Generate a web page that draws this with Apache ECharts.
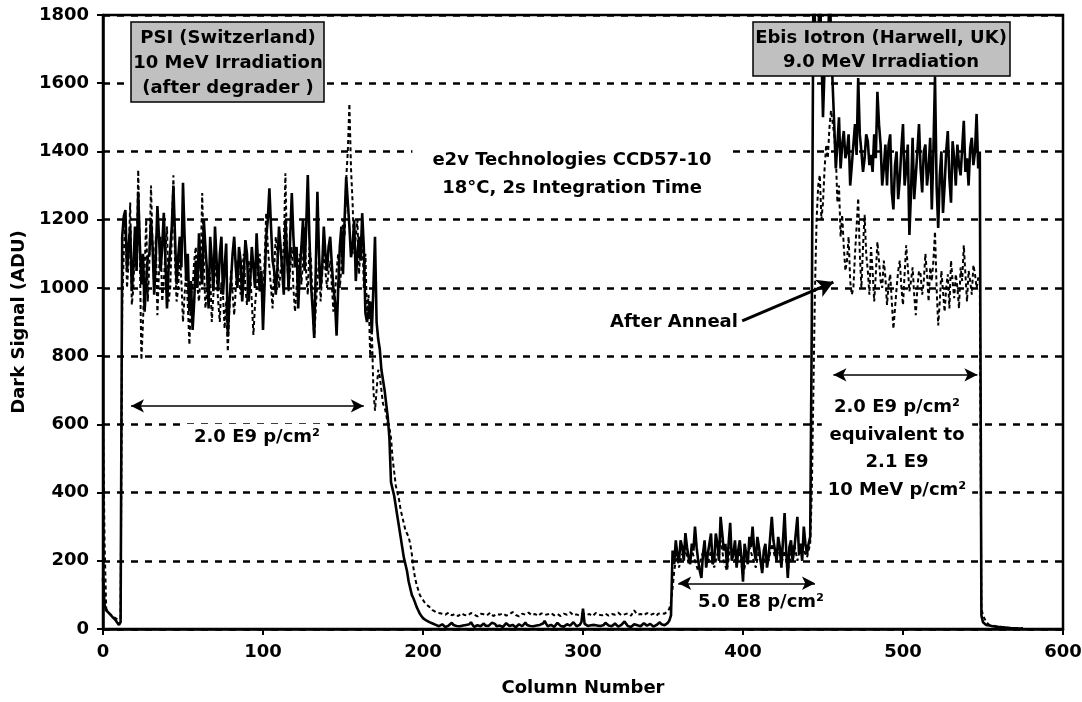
<!DOCTYPE html>
<html><head><meta charset="utf-8">
<script src="https://cdn.jsdelivr.net/npm/echarts@6/dist/echarts.min.js"></script>
<style>html,body{margin:0;padding:0;background:#fff}#c{width:1082px;height:702px}</style>
</head><body><div id="c"></div>
<script>
// Values read at even columns (0,2,...,574) and odd columns (1,3,...,575)

// Before anneal (solid line), dark signal in ADU — even columns
const beforeEven = [
  150,55,45,35,25,12,1150,1228,1120,990,          // 0-18
  1180,1282,1010,930,1090,1200,980,1240,1050,1220, // 20-38
  940,1110,1300,1010,1150,1308,1020,930,877,1080,  // 40-58
  1160,1010,1120,940,1080,1180,990,1150,1060,857,  // 60-78
  1020,1150,1000,1080,1040,1100,1020,1060,1160,990,// 80-98
  877,1150,1292,1080,980,1180,1050,1200,1000,1278, // 100-118
  1060,940,1120,1050,1331,1010,853,1282,1000,1180, // 120-138
  1050,1150,1000,860,1120,1040,1325,1180,1120,1020,// 140-158
  1150,1219,926,930,870,1150,850,760,700,620,      // 160-178
  430,390,330,270,210,170,120,90,65,45,            // 180-198
  32,25,20,16,12,8,14,6,10,18,                     // 200-218
  7,12,5,15,9,20,6,11,8,16,                        // 220-238
  5,13,22,8,10,6,17,9,12,5,                        // 240-258
  14,8,19,7,11,6,15,10,24,8,                       // 260-278
  12,6,18,9,7,14,10,20,8,12,                       // 280-298
  60,10,7,15,9,13,6,18,10,8,                       // 300-318
  16,7,12,22,9,6,14,11,8,17,                       // 320-338
  10,15,7,12,20,9,14,25,230,260,                   // 340-358
  200,240,281,210,250,300,200,150,260,220,         // 360-378
  280,200,250,329,230,183,311,220,180,260,         // 380-398
  139,220,270,300,200,240,164,250,210,329,         // 400-418
  230,270,180,340,150,260,230,329,250,300,         // 420-438
  220,270,1900,1650,1900,1500,1750,1900,1600,1350, // 440-458
  1500,1420,1380,1450,1360,1480,1615,1400,1380,1430,// 460-478
  1390,1450,1575,1420,1350,1300,1450,1230,1400,1320,// 480-498
  1480,1350,1155,1440,1330,1480,1280,1420,1350,1230,// 500-518
  1620,1176,1400,1300,1460,1250,1380,1420,1330,1490,// 520-538
  1380,1410,1360,1510,1400,20,12,10,8,7,           // 540-558
  6,5,4,3,2,2,1,1                                  // 560-574
];
// Before anneal — odd columns
const beforeOdd = [
  70,50,40,30,18,20,1210,1050,1180,1060,           // 1-19
  1050,1130,1100,1020,1100,1120,1090,1150,1120,1080,// 21-39
  1060,1180,1150,1090,1060,1150,1100,1020,960,1000,// 41-59
  1060,1200,1050,1150,990,1080,1100,980,1130,960,  // 61-79
  1100,1060,1120,960,1140,960,1120,1000,1060,1050, // 81-99
  1010,1200,1180,1050,1060,1120,980,1100,1150,1150,// 101-119
  1120,1050,1200,1180,1150,940,1060,1100,1060,1100,// 121-139
  1120,1070,960,1000,1180,1200,1250,1090,1200,1100,// 141-159
  1080,1120,900,960,1000,900,820,730,660,560,      // 161-179
  410,360,300,240,190,140,100,78,55,38,            // 181-199
  28,22,18,14,10,11,9,8,14,12,                     // 201-219
  9,8,10,12,14,12,8,9,12,10,                       // 221-239
  9,18,15,9,8,11,13,10,8,9,                        // 241-259
  11,13,12,9,8,10,12,16,15,10,                     // 261-279
  9,12,13,8,10,12,15,14,10,20,                     // 281-299
  15,9,11,12,10,9,12,14,9,12,                      // 301-319
  11,9,17,15,8,10,12,9,12,13,                      // 321-339
  12,10,9,16,14,11,18,40,190,215,                  // 341-359
  260,200,240,190,230,240,170,220,180,250,         // 361-379
  190,280,200,280,250,250,200,260,230,210,         // 381-399
  250,190,240,230,270,200,230,180,270,260,         // 401-419
  200,240,260,230,240,200,280,220,200,250,         // 421-439
  250,900,1900,1700,1900,1650,1620,1900,1480,1420, // 441-459
  1350,1460,1400,1300,1420,1390,1450,1340,1450,1360,// 461-479
  1340,1380,1480,1300,1420,1420,1280,1360,1260,1410,// 481-499
  1300,1420,1280,1260,1400,1350,1400,1300,1440,1400,// 501-519
  1300,1330,1220,1400,1320,1430,1300,1360,1410,1340,// 521-539
  1300,1440,1400,1350,40,15,11,9,8,6,              // 541-559
  5,4,3,2,2,1,1,1                                  // 561-575
];

// After anneal (dashed line) — even columns
const afterEven = [
  620,60,45,38,30,25,950,1200,1080,950,            // 0-18
  1150,1346,789,1050,960,1300,1000,920,1150,1020,  // 20-38
  1180,1000,1330,960,1100,900,1050,833,1000,1120,  // 40-58
  960,1278,940,1050,900,1080,960,1020,880,813,     // 60-78
  1050,920,1080,980,1100,950,1040,862,1000,1100,   // 80-98
  960,1220,1060,940,1150,1000,1080,1336,990,1120,  // 100-118
  930,1060,1010,1180,980,1080,853,1020,960,1120,   // 120-138
  1000,1080,930,1050,1000,1200,1320,1540,1250,1150,// 140-158
  1040,1180,1100,980,880,640,760,700,650,600,      // 160-178
  560,460,400,350,310,280,250,180,130,100,         // 180-198
  85,72,65,55,50,47,45,42,48,40,                   // 200-218
  44,38,46,41,39,47,42,37,45,43,                   // 220-238
  40,48,38,44,42,46,39,43,50,41,                   // 240-258
  37,45,42,48,40,44,38,46,41,43,                   // 260-278
  47,40,44,38,45,42,49,40,43,39,                   // 280-298
  46,41,44,38,47,42,40,45,39,44,                   // 300-318
  42,48,40,43,46,39,55,42,44,40,                   // 320-338
  47,41,45,39,50,43,48,60,120,200,                 // 340-358
  180,220,240,190,230,200,170,210,240,190,         // 360-378
  230,180,220,260,200,170,240,210,190,230,         // 380-398
  160,200,240,210,180,230,170,220,200,250,         // 400-418
  210,240,190,230,170,220,250,200,240,230,         // 420-438
  210,250,700,1200,1331,1250,1420,1468,1517,1390,  // 440-458
  1300,1214,1050,1150,980,1100,1263,1000,1214,1050,// 460-478
  1120,960,1135,1020,1080,950,1040,880,1000,1080,  // 480-498
  950,1125,990,1060,920,1050,980,1100,960,1020,    // 500-518
  1165,890,1050,930,1040,1080,970,1000,1060,1125,  // 520-538
  960,1020,1067,1000,1018,40,20,12,10,8,           // 540-558
  7,6,5,4,3,3,2,2                                  // 560-574
];
// After anneal — odd columns
const afterOdd = [
  250,50,42,34,28,30,1100,1000,1250,1000,          // 1-19
  1050,1100,900,1200,1080,1120,1150,1050,960,1100, // 21-39
  960,1150,1080,1000,1020,980,950,980,1080,1000,   // 41-59
  1050,1080,990,1040,980,1030,900,980,960,940,     // 61-79
  980,1000,1030,1050,1000,1080,960,950,1060,1000,  // 81-99
  1080,1120,1000,1060,1100,1050,1120,1100,1060,1000,// 101-119
  1000,1100,1080,1040,1120,960,940,1080,1040,1050, // 121-139
  1050,1010,980,1100,1060,1150,1400,1350,1100,1200,// 141-159
  1120,1000,920,800,700,700,740,660,630,590,       // 161-179
  500,420,380,330,290,270,220,150,115,92,          // 181-199
  78,68,60,52,49,46,43,45,44,42,                   // 201-219
  41,42,44,40,43,45,39,41,44,42,                   // 221-239
  44,43,41,43,44,42,41,46,45,39,                   // 241-259
  41,44,45,44,42,41,42,44,42,45,                   // 261-279
  43,42,41,42,44,46,44,42,41,43,                   // 281-299
  43,42,41,43,45,41,43,42,41,43,                   // 301-319
  45,44,41,44,42,47,48,43,42,44,                   // 321-339
  44,43,44,45,46,45,52,80,170,210,                 // 341-359
  200,210,215,210,215,185,190,225,215,210,         // 361-379
  200,200,240,230,185,205,225,200,210,190,         // 381-399
  180,220,225,195,205,200,195,210,225,230,         // 401-419
  225,215,210,200,195,235,225,220,235,220,         // 421-439
  230,400,1000,1300,1200,1350,1380,1520,1450,1250, // 441-459
  1150,1120,1080,1020,1000,1180,1100,1120,1100,980,// 461-479
  1050,1040,1080,1000,1030,1010,960,940,1050,1000, // 481-499
  1040,1060,1020,980,1000,1040,1020,1040,1060,1080,// 501-519
  1000,960,990,1000,940,1020,1040,940,1020,1040,   // 521-539
  1050,980,1040,1030,60,30,15,11,9,8,              // 541-559
  6,5,4,4,3,2,2,2                                  // 561-575
];

// Fluence range arrows [colStart, colEnd, level]
const rangeArrows = [
  [17.5, 163, 654],
  [359.5, 445, 134],
  [456.5, 546.5, 745]
];
const annealArrow = [[399.5, 903], [456.5, 1017]];

const FONT = 'DejaVu Sans';
const merge = (even, odd) => {
  const out = [];
  even.forEach((v, i) => { out.push([2 * i, v]); if (i < odd.length) out.push([2 * i + 1, odd[i]]); });
  return out;
};

const chart = echarts.init(document.getElementById('c'), null, {renderer: 'canvas'});
const txt = (x, y, text, extra) => ({
  type: 'text', x, y, z: 100,
  style: Object.assign({text, fill: '#000', font: 'bold 18px "' + FONT + '"',
    align: 'center', verticalAlign: 'middle'}, extra || {})
});

const markData = rangeArrows.map(a => [
  {coord: [a[0], a[2]], symbol: 'arrow'},
  {coord: [a[1], a[2]], symbol: 'arrow'}
]);
markData.push([
  {coord: annealArrow[0], symbol: 'none', lineStyle: {width: 3}},
  {coord: annealArrow[1], symbol: 'arrow', symbolSize: [14, 16], lineStyle: {width: 3}}
]);

chart.setOption({
  animation: false,
  backgroundColor: '#fff',
  grid: {left: 103, right: 19, top: 15, bottom: 73, show: true, borderColor: '#000', borderWidth: 2.5,
         containLabel: false, outerBoundsMode: 'none'},
  xAxis: {
    type: 'value', min: 0, max: 600, interval: 100,
    axisLine: {show: true, lineStyle: {color: '#000', width: 2.5}},
    axisTick: {show: true, length: 6, lineStyle: {color: '#000', width: 2}},
    axisLabel: {color: '#000', fontFamily: FONT, fontWeight: 'bold', fontSize: 18, margin: 14,
                formatter: v => String(v)},
    splitLine: {show: false},
    name: 'Column Number', nameLocation: 'middle', nameGap: 50,
    nameTextStyle: {color: '#000', fontFamily: FONT, fontWeight: 'bold', fontSize: 18}
  },
  yAxis: {
    type: 'value', min: 0, max: 1800, interval: 200,
    axisLine: {show: true, lineStyle: {color: '#000', width: 2.5}},
    axisTick: {show: true, length: 6, lineStyle: {color: '#000', width: 2}},
    axisLabel: {color: '#000', fontFamily: FONT, fontWeight: 'bold', fontSize: 18, margin: 14,
                formatter: v => String(v)},
    splitLine: {show: true, lineStyle: {color: '#000', width: 2.5, type: [7, 7]}},
    name: 'Dark Signal (ADU)', nameLocation: 'middle', nameGap: 74, nameRotate: 90,
    nameTextStyle: {color: '#000', fontFamily: FONT, fontWeight: 'bold', fontSize: 18}
  },
  series: [
    {
      name: 'After Anneal', type: 'line', data: merge(afterEven, afterOdd),
      showSymbol: false, symbol: 'none', clip: true,
      lineStyle: {color: '#000', width: 2, type: [4, 3]}
    },
    {
      name: 'Before Anneal', type: 'line', data: merge(beforeEven, beforeOdd),
      showSymbol: false, symbol: 'none', clip: true,
      lineStyle: {color: '#000', width: 2.6},
      markLine: {
        silent: true, animation: false,
        symbol: ['arrow', 'arrow'], symbolSize: [10, 13],
        label: {show: false},
        lineStyle: {color: '#000', width: 1.5, type: 'solid'},
        emphasis: {disabled: true},
        data: markData
      }
    }
  ],
  graphic: [
    {type: 'rect', z: 99, shape: {x: 131, y: 22, width: 193, height: 80},
     style: {fill: '#c0c0c0', stroke: '#000', lineWidth: 1.5}},
    txt(228, 63, 'PSI (Switzerland)\n10 MeV Irradiation\n(after degrader )', {lineHeight: 25}),
    {type: 'rect', z: 99, shape: {x: 753, y: 22, width: 257, height: 54},
     style: {fill: '#c0c0c0', stroke: '#000', lineWidth: 1.5}},
    txt(881, 50, 'Ebis Iotron (Harwell, UK)\n9.0 MeV Irradiation', {lineHeight: 24}),
    txt(572, 174, 'e2v Technologies CCD57-10\n18°C, 2s Integration Time',
        {lineHeight: 28, backgroundColor: '#fff', padding: [6, 20]}),
    txt(257, 437, '2.0 E9 p/cm²', {backgroundColor: '#fff', padding: [4, 8]}),
    txt(761, 602, '5.0 E8 p/cm²'),
    txt(897, 449, '2.0 E9 p/cm²\nequivalent to\n2.1 E9\n10 MeV p/cm²',
        {lineHeight: 27.5, backgroundColor: '#fff', padding: [2, 6]}),
    txt(674, 322, 'After Anneal')
  ]
});
</script>
</body></html>
